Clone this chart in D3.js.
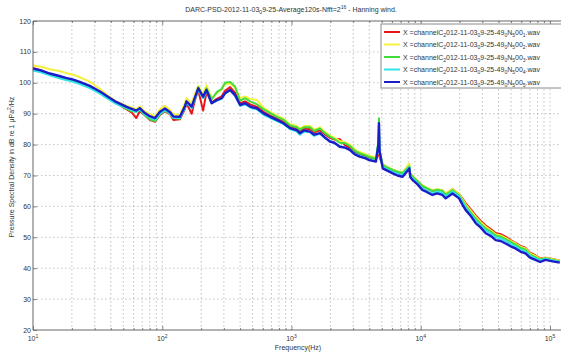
<!DOCTYPE html>
<html>
<head>
<meta charset="utf-8">
<script src="https://cdn.jsdelivr.net/npm/d3@7"></script>
<style>
body { margin:0; background:#fff; }
svg { font-family: "Liberation Sans", Arial, sans-serif; }
</style>
</head>
<body>
<svg id="chart" width="561" height="354"></svg>
<script>

// DATA (Hz / dB)
var freqs = [10, 11.5, 13.5, 16, 18, 20.5, 23, 27.5, 33, 37,
  44, 53, 58, 63, 67, 73, 80, 88, 96, 105,
  115, 122, 137, 150, 154, 169, 180, 190, 207, 220,
  241, 264, 288, 306, 335, 366, 400, 438, 479, 541,
  609, 685, 771, 867, 976, 1100, 1160, 1250, 1390, 1500,
  1660, 1800, 1980, 2150, 2360, 2600, 2820, 3100, 3360, 3700,
  4000, 4500, 4700, 4750, 4800, 5080, 5500, 6070, 6600, 7240,
  8160, 8300, 8660, 9400, 10300, 11200, 12300, 13400, 14700, 15600,
  17600, 19800, 21000, 22300, 24400, 26700, 29000, 31800, 35000, 38000,
  41500, 45300, 50000, 54100, 59000, 64600, 70000, 77000, 84000, 92000,
  105000, 119000];

var psd1 = [104.8,104.1,102.8,101.8,101.2,100.6,99.9,98.6,97.0,95.6,
  93.4,91.4,90.4,88.6,90.8,89.6,88.0,87.4,89.6,90.8,
  89.8,88.0,88.2,91.6,93.4,90.0,94.8,97.6,91.0,97.0,
  93.6,94.8,95.6,97.4,98.6,96.8,93.4,94.0,93.0,92.2,
  90.6,89.4,88.4,87.4,85.8,85.0,84.2,85.2,85.0,84.0,
  84.6,83.4,82.2,81.6,81.8,79.8,79.0,77.6,76.6,76.4,
  75.8,75.2,77.0,79.0,76.0,73.2,72.4,71.6,71.0,70.6,
  72.0,70.4,69.6,68.2,66.6,65.8,65.0,65.4,65.2,64.0,
  65.6,64.0,62.6,61.0,59.0,57.0,55.4,53.8,52.6,51.4,
  51.0,50.2,49.0,48.2,47.2,46.6,45.0,44.2,43.2,43.4,
  43.0,42.4];

var psd2 = [105.6,105.2,104.4,103.8,103.2,102.6,101.8,100.4,98.0,96.2,
  94.0,92.6,92.0,91.4,92.4,90.8,89.8,89.2,91.4,92.6,
  91.2,89.8,89.6,93.6,95.0,93.4,96.6,99.0,96.4,99.2,
  95.0,96.6,97.8,99.6,99.8,98.4,95.0,95.6,94.8,94.4,
  91.8,90.6,89.4,88.4,86.6,86.0,85.2,86.0,86.0,84.8,
  85.6,84.2,83.0,82.2,81.2,80.8,80.0,78.4,77.6,77.0,
  76.4,75.8,78.0,83.0,77.0,73.6,72.8,72.0,71.4,71.0,
  73.9,70.8,69.8,68.4,66.8,66.0,65.2,65.6,65.2,64.2,
  65.6,64.0,62.4,60.6,58.6,56.6,55.0,53.4,52.2,51.0,
  50.6,49.8,48.8,48.0,47.0,46.4,44.8,44.0,43.0,43.4,
  42.9,42.4];

var psd3 = [104.4,103.8,102.8,101.9,101.3,100.7,100.0,98.7,96.9,95.5,
  93.4,91.6,90.8,90.6,91.2,89.6,88.2,87.6,89.8,91.0,
  90.0,88.6,88.4,92.2,93.8,92.0,95.4,98.6,95.2,98.2,
  94.6,97.0,98.0,100.0,100.3,98.8,94.2,95.0,94.0,93.0,
  91.4,90.2,89.0,88.0,86.2,85.6,84.8,85.6,85.6,84.4,
  85.2,83.8,82.6,81.8,80.6,80.4,79.6,78.0,77.2,76.6,
  76.0,75.4,81.0,88.5,78.0,73.4,72.6,71.8,71.2,70.8,
  73.0,70.6,69.6,68.2,66.6,65.8,65.0,65.4,65.0,63.8,
  65.2,63.6,61.8,60.0,58.0,56.0,54.4,52.8,51.8,50.6,
  50.2,49.4,48.4,47.6,46.6,46.0,44.4,43.6,42.8,43.2,
  42.7,42.2];

var psd4 = [104.0,103.4,102.4,101.5,100.9,100.3,99.6,98.3,96.5,95.1,
  93.2,91.8,91.2,90.6,91.4,89.8,88.8,88.0,90.0,91.2,
  90.0,88.6,88.6,92.0,93.6,91.8,95.0,97.6,95.0,97.2,
  93.4,94.2,94.8,96.6,97.6,95.8,92.6,93.0,92.0,91.4,
  89.6,88.6,87.6,86.6,85.0,84.2,83.2,84.2,84.0,82.8,
  83.6,82.2,81.2,80.4,79.6,79.0,78.4,77.0,76.4,75.8,
  75.2,74.8,79.0,85.0,77.5,72.8,72.0,71.2,70.6,70.2,
  72.8,70.0,69.0,67.6,65.8,65.0,64.2,64.8,64.4,63.2,
  64.8,63.2,61.4,59.6,57.4,55.4,53.8,52.2,51.2,50.0,
  49.6,48.8,47.8,47.0,46.0,45.4,44.0,43.2,42.6,43.0,
  42.5,42.0];

var psd5 = [104.6,104.0,103.0,102.2,101.6,101.0,100.3,99.0,97.2,95.8,
  93.8,92.2,91.6,91.0,91.8,90.3,89.2,88.6,90.6,91.7,
  90.5,89.1,89.0,92.5,94.0,92.3,95.5,98.2,95.5,97.7,
  93.4,94.4,95.0,96.6,97.7,96.0,92.8,93.4,92.3,91.7,
  90.1,89.0,88.0,86.9,85.3,84.7,83.7,84.6,84.2,83.2,
  83.7,82.4,81.0,80.6,79.3,79.0,78.3,76.8,76.1,75.6,
  75.0,74.5,80.0,86.9,78.0,72.3,71.6,70.7,70.0,69.6,
  72.3,69.5,68.5,67.2,65.3,64.6,63.7,64.2,63.7,62.6,
  64.2,62.6,60.6,58.8,56.9,54.5,53.2,51.3,50.4,49.1,
  48.8,48.0,47.0,46.4,45.4,44.8,43.4,42.7,42.0,42.7,
  42.2,41.8];

var seriesNames = ["1", "2", "3", "4", "5"];
var seriesValues = [psd1, psd2, psd3, psd4, psd5];
var seriesColors = ["#e8161c", "#f4f23a", "#3fdc3a", "#2fe4e8", "#1c1cc8"];

var yTicks = [20, 30, 40, 50, 60, 70, 80, 90, 100, 110, 120];
var xMajor = [10, 100, 1000, 10000, 100000];
var xExpo = ["1", "2", "3", "4", "5"];

// SIZES (careful: "top" is taken by window.top)
var pLeft = 33, pRight = 566, pTop = 21, pBottom = 330;
var textColor = "#333";
var fontSize = 7;

var svg = d3.select("#chart");

var x = d3.scaleLog().domain([10, 100000]).range([pLeft, 550]);
var y = d3.scaleLinear().domain([20, 120]).range([pBottom, pTop]);

// minor ticks 2..9 in each decade
var xMinor = [];
for (var d = 10; d < 130000; d *= 10) {
    for (var k = 2; k <= 9; k++) {
        if (d * k < 130000) xMinor.push(d * k);
    }
}

// GRID
var grid = svg.append("g");
grid.selectAll(".vg")
    .data(xMajor.concat(xMinor).filter(function(v){ return v > 10; }))
    .enter()
    .append("line")
    .attr("x1", d => x(d)).attr("x2", d => x(d))
    .attr("y1", pTop).attr("y2", pBottom)
    .attr("stroke", "#9a9a9a")
    .attr("stroke-width", 0.6)
    .attr("stroke-dasharray", "1.5,2.5")
    ;
grid.selectAll(".hg")
    .data(yTicks.filter(function(v){ return v > 20 && v < 120; }))
    .enter()
    .append("line")
    .attr("x1", pLeft).attr("x2", pRight)
    .attr("y1", d => y(d)).attr("y2", d => y(d))
    .attr("stroke", "#9a9a9a")
    .attr("stroke-width", 0.6)
    .attr("stroke-dasharray", "1.5,2.5")
    ;

// CURVES
var line = d3.line()
    .x(function(d, i){ return x(freqs[i]); })
    .y(function(d){ return y(d); });

svg.append("g")
    .selectAll("path")
    .data(seriesValues)
    .enter()
    .append("path")
    .attr("d", d => line(d))
    .attr("fill", "none")
    .attr("stroke", (d, i) => seriesColors[i])
    .attr("stroke-width", (d, i) => i == 4 ? 2.4 : 2)
    .attr("stroke-linejoin", "round")
    ;

// AXES (ticks inward like matlab)
var axB = svg.append("g").attr("transform", "translate(0," + pBottom + ")")
    .call(d3.axisBottom(x).tickValues(xMajor).tickSize(-4).tickFormat(""));
var axBm = svg.append("g").attr("transform", "translate(0," + pBottom + ")")
    .call(d3.axisBottom(x).tickValues(xMinor).tickSize(-2).tickFormat(""));
var axT = svg.append("g").attr("transform", "translate(0," + pTop + ")")
    .call(d3.axisTop(x).tickValues(xMajor).tickSize(-4).tickFormat(""));
var axTm = svg.append("g").attr("transform", "translate(0," + pTop + ")")
    .call(d3.axisTop(x).tickValues(xMinor).tickSize(-2).tickFormat(""));
var axL = svg.append("g").attr("transform", "translate(" + pLeft + ",0)")
    .call(d3.axisLeft(y).tickValues(yTicks).tickSize(-4).tickFormat(""));

[axB, axBm, axT, axTm, axL].forEach(function(a){
    a.selectAll("path.domain").remove();
    a.selectAll("line").attr("stroke", "#555").attr("stroke-width", 0.7);
});

// box lines
svg.append("line").attr("x1", pLeft).attr("x2", pRight).attr("y1", pBottom).attr("y2", pBottom)
    .attr("stroke", "#666").attr("stroke-width", 1);
svg.append("line").attr("x1", pLeft).attr("x2", pRight).attr("y1", pTop).attr("y2", pTop)
    .attr("stroke", "#666").attr("stroke-width", 1);
svg.append("line").attr("x1", pLeft).attr("x2", pLeft).attr("y1", pTop).attr("y2", pBottom)
    .attr("stroke", "#666").attr("stroke-width", 1);

// tick labels
svg.selectAll(".ylab")
    .data(yTicks)
    .enter()
    .append("text")
    .attr("x", pLeft - 2)
    .attr("y", d => y(d) + 2.5)
    .attr("text-anchor", "end")
    .attr("font-size", fontSize)
    .attr("fill", textColor)
    .text(d => d)
    ;

var xl = svg.selectAll(".xlab")
    .data(xMajor)
    .enter()
    .append("text")
    .attr("x", d => x(d))
    .attr("y", pBottom + 11)
    .attr("text-anchor", "middle")
    .attr("font-size", fontSize)
    .attr("fill", textColor)
    ;
xl.append("tspan").text("10");
xl.append("tspan").attr("dy", -3).attr("font-size", 5).text((d, i) => xExpo[i]);

// axis titles
svg.append("text")
    .attr("x", 298)
    .attr("y", 350)
    .attr("text-anchor", "middle")
    .attr("font-size", fontSize)
    .attr("fill", textColor)
    .text("Frequency(Hz)")
    ;

var yl = svg.append("text")
    .attr("transform", "translate(14,167) rotate(-90)")
    .attr("text-anchor", "middle")
    .attr("font-size", fontSize)
    .attr("fill", textColor)
    ;
yl.append("tspan").text("Pressure Spectral Density in dB re 1 μPa");
yl.append("tspan").attr("dy", -3).attr("font-size", 5).text("2");
yl.append("tspan").attr("dy", 3).text("/Hz");

// title
var title = svg.append("text")
    .attr("x", 291)
    .attr("y", 12)
    .attr("text-anchor", "middle")
    .attr("font-size", fontSize)
    .attr("fill", textColor)
    ;
title.append("tspan").text("DARC-PSD-2012-11-03");
title.append("tspan").attr("dy", 2).attr("font-size", 5).text("0");
title.append("tspan").attr("dy", -2).text("9-25-Average120s-Nfft=2");
title.append("tspan").attr("dy", -3).attr("font-size", 5).text("16");
title.append("tspan").attr("dy", 3).text(" - Hanning wind.");

// LEGEND
var legX = 381, legY = 24, legStep = 12.5;
svg.append("rect")
    .attr("x", legX)
    .attr("y", legY)
    .attr("width", 200)
    .attr("height", 64)
    .attr("fill", "#fff")
    .attr("stroke", "#8a8a8a")
    .attr("stroke-width", 1)
    ;

var leg = svg.selectAll(".leg")
    .data(seriesNames)
    .enter()
    .append("g")
    .attr("transform", (d, i) => "translate(" + legX + "," + (legY + 8 + i * legStep) + ")")
    ;
leg.append("line")
    .attr("x1", 3).attr("x2", 19)
    .attr("stroke", (d, i) => seriesColors[i])
    .attr("stroke-width", 2)
    ;
var lt = leg.append("text")
    .attr("x", 22)
    .attr("y", 2.5)
    .attr("font-size", fontSize)
    .attr("fill", textColor)
    ;
lt.append("tspan").text("X =channelC");
lt.append("tspan").attr("dy", 2).attr("font-size", 5).text("2");
lt.append("tspan").attr("dy", -2).text("012-11-03");
lt.append("tspan").attr("dy", 2).attr("font-size", 5).text("0");
lt.append("tspan").attr("dy", -2).text("9-25-49");
lt.append("tspan").attr("dy", 2).attr("font-size", 5).text("0");
lt.append("tspan").attr("dy", -2).text("N");
lt.append("tspan").attr("dy", 2).attr("font-size", 5).text("5");
lt.append("tspan").attr("dy", -2).text("00");
lt.append("tspan").attr("dy", 2).attr("font-size", 5).text(d => d);
lt.append("tspan").attr("dy", -2).text(".wav");

</script>
</body>
</html>
